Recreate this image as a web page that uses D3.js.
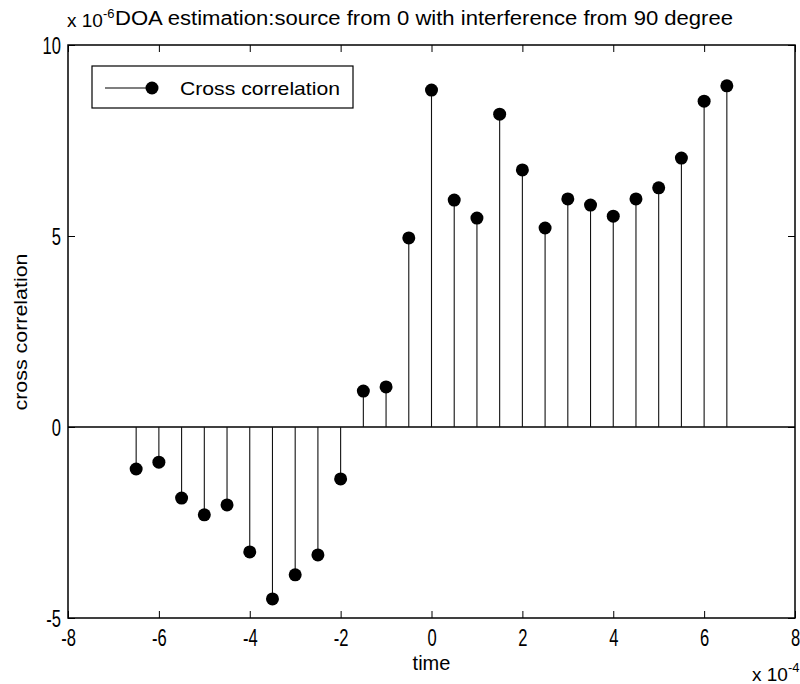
<!DOCTYPE html>
<html>
<head>
<meta charset="utf-8">
<script src="https://cdn.jsdelivr.net/npm/d3@7"></script>
<style>
  body { margin: 0; background: #fff; }
  svg text { font-family: "Liberation Sans", Arial, sans-serif; fill: #000; }
</style>
</head>
<body>
<script>
"use strict";

// times in units of 1e-4 s, correlation in units of 1e-6
var times = [-6.5, -6, -5.5, -5, -4.5, -4, -3.5, -3, -2.5, -2, -1.5, -1, -0.5,
             0, 0.5, 1, 1.5, 2, 2.5, 3, 3.5, 4, 4.5, 5, 5.5, 6, 6.5];
var corr = [-1.1, -0.92, -1.86, -2.3, -2.04, -3.27, -4.5, -3.87, -3.35, -1.36, 0.94, 1.05, 4.95,
            8.82, 5.94, 5.47, 8.19, 6.73, 5.21, 5.97, 5.81, 5.52, 5.97, 6.26, 7.04, 8.53, 8.93];
var x_ticks = [-8, -6, -4, -2, 0, 2, 4, 6, 8];
var y_ticks = [-5, 0, 5, 10];

var width = 800;
var height = 684;
var margin = { top: 45, right: 5, bottom: 66, left: 68 };

var svg = d3.select('body').append('svg')
    .attr('width', width)
    .attr('height', height);

var x = d3.scaleLinear().domain([-8, 8]).range([margin.left, width - margin.right]);
var y = d3.scaleLinear().domain([-5, 10]).range([height - margin.bottom, margin.top]);

var tick_len = 7;
var squeeze = 0.72;
var plain = function(d) { return String(d); };

// axes: inward ticks on all four sides
var gx = svg.append('g')
    .attr('transform', 'translate(0,' + y(-5) + ')')
    .call(d3.axisBottom(x).tickValues(x_ticks).tickSize(-tick_len).tickFormat(plain))
    .call(function(g) { g.select('.domain').remove(); });
gx.selectAll('.tick text')
    .attr('y', 28).attr('dy', 0)
    .attr('transform', 'scale(' + squeeze + ',1)');

svg.append('g')
    .attr('transform', 'translate(0,' + y(10) + ')')
    .call(d3.axisTop(x).tickValues(x_ticks).tickSize(-tick_len).tickFormat(''))
    .call(function(g) { g.select('.domain').remove(); });

var gy = svg.append('g')
    .attr('transform', 'translate(' + x(-8) + ',0)')
    .call(d3.axisLeft(y).tickValues(y_ticks).tickSize(-tick_len).tickFormat(plain))
    .call(function(g) { g.select('.domain').remove(); });
gy.selectAll('.tick text')
    .attr('x', -7 / squeeze).attr('dy', '0.36em')
    .attr('transform', 'scale(' + squeeze + ',1)');

svg.append('g')
    .attr('transform', 'translate(' + x(8) + ',0)')
    .call(d3.axisRight(y).tickValues(y_ticks).tickSize(-tick_len).tickFormat(''))
    .call(function(g) { g.select('.domain').remove(); });

svg.selectAll('.tick text').style('font-size', '23px').style('font-family', '"Liberation Sans", Arial, sans-serif');
svg.selectAll('.tick line').attr('stroke', '#000');

// box
svg.append('rect')
    .attr('x', x(-8)).attr('y', y(10))
    .attr('width', x(8) - x(-8)).attr('height', y(-5) - y(10))
    .attr('fill', 'none').attr('stroke', '#000').attr('stroke-width', 1.5);

// baseline
svg.append('line')
    .attr('x1', x(-8)).attr('x2', x(8))
    .attr('y1', y(0)).attr('y2', y(0))
    .attr('stroke', '#000').attr('stroke-width', 1.3);

var pts = times.map(function(t, i) { return { t: t, v: corr[i] }; });

svg.append('g').selectAll('line')
    .data(pts).enter().append('line')
    .attr('x1', function(d) { return x(d.t); })
    .attr('x2', function(d) { return x(d.t); })
    .attr('y1', y(0))
    .attr('y2', function(d) { return y(d.v); })
    .attr('stroke', '#111').attr('stroke-width', 1.1);

svg.append('g').selectAll('circle')
    .data(pts).enter().append('circle')
    .attr('cx', function(d) { return x(d.t); })
    .attr('cy', function(d) { return y(d.v); })
    .attr('r', 6.5)
    .attr('fill', '#000');

// legend
var lg = svg.append('g');
lg.append('rect')
    .attr('x', 92).attr('y', 66).attr('width', 261).attr('height', 42)
    .attr('fill', '#fff').attr('stroke', '#000').attr('stroke-width', 1.2);
lg.append('line')
    .attr('x1', 105).attr('x2', 152).attr('y1', 88).attr('y2', 88)
    .attr('stroke', '#000').attr('stroke-width', 1.1);
lg.append('circle').attr('cx', 152).attr('cy', 88).attr('r', 6.5).attr('fill', '#000');
lg.append('text').attr('x', 180).attr('y', 95)
    .attr('textLength', 160).attr('lengthAdjust', 'spacingAndGlyphs')
    .style('font-size', '19px').text('Cross correlation');

// labels
svg.append('text')
    .attr('x', 115).attr('y', 25)
    .attr('textLength', 618).attr('lengthAdjust', 'spacingAndGlyphs')
    .style('font-size', '20px')
    .text('DOA estimation:source from 0 with interference from 90 degree');

var ex_y = svg.append('text').attr('x', 67).attr('y', 27).style('font-size', '19px');
ex_y.append('tspan').text('x 10');
ex_y.append('tspan').attr('dy', -9).style('font-size', '13px').text('-6');

svg.append('text')
    .attr('x', x(0)).attr('y', 670)
    .attr('text-anchor', 'middle').style('font-size', '20px')
    .text('time');

var ex_x = svg.append('text').attr('x', 752).attr('y', 681).style('font-size', '19px');
ex_x.append('tspan').text('x 10');
ex_x.append('tspan').attr('dy', -9).style('font-size', '13px').text('-4');

svg.append('text')
    .attr('transform', 'translate(27,332) rotate(-90)')
    .attr('textLength', 157).attr('lengthAdjust', 'spacingAndGlyphs')
    .attr('text-anchor', 'middle').style('font-size', '18px')
    .text('cross correlation');
</script>
</body>
</html>
